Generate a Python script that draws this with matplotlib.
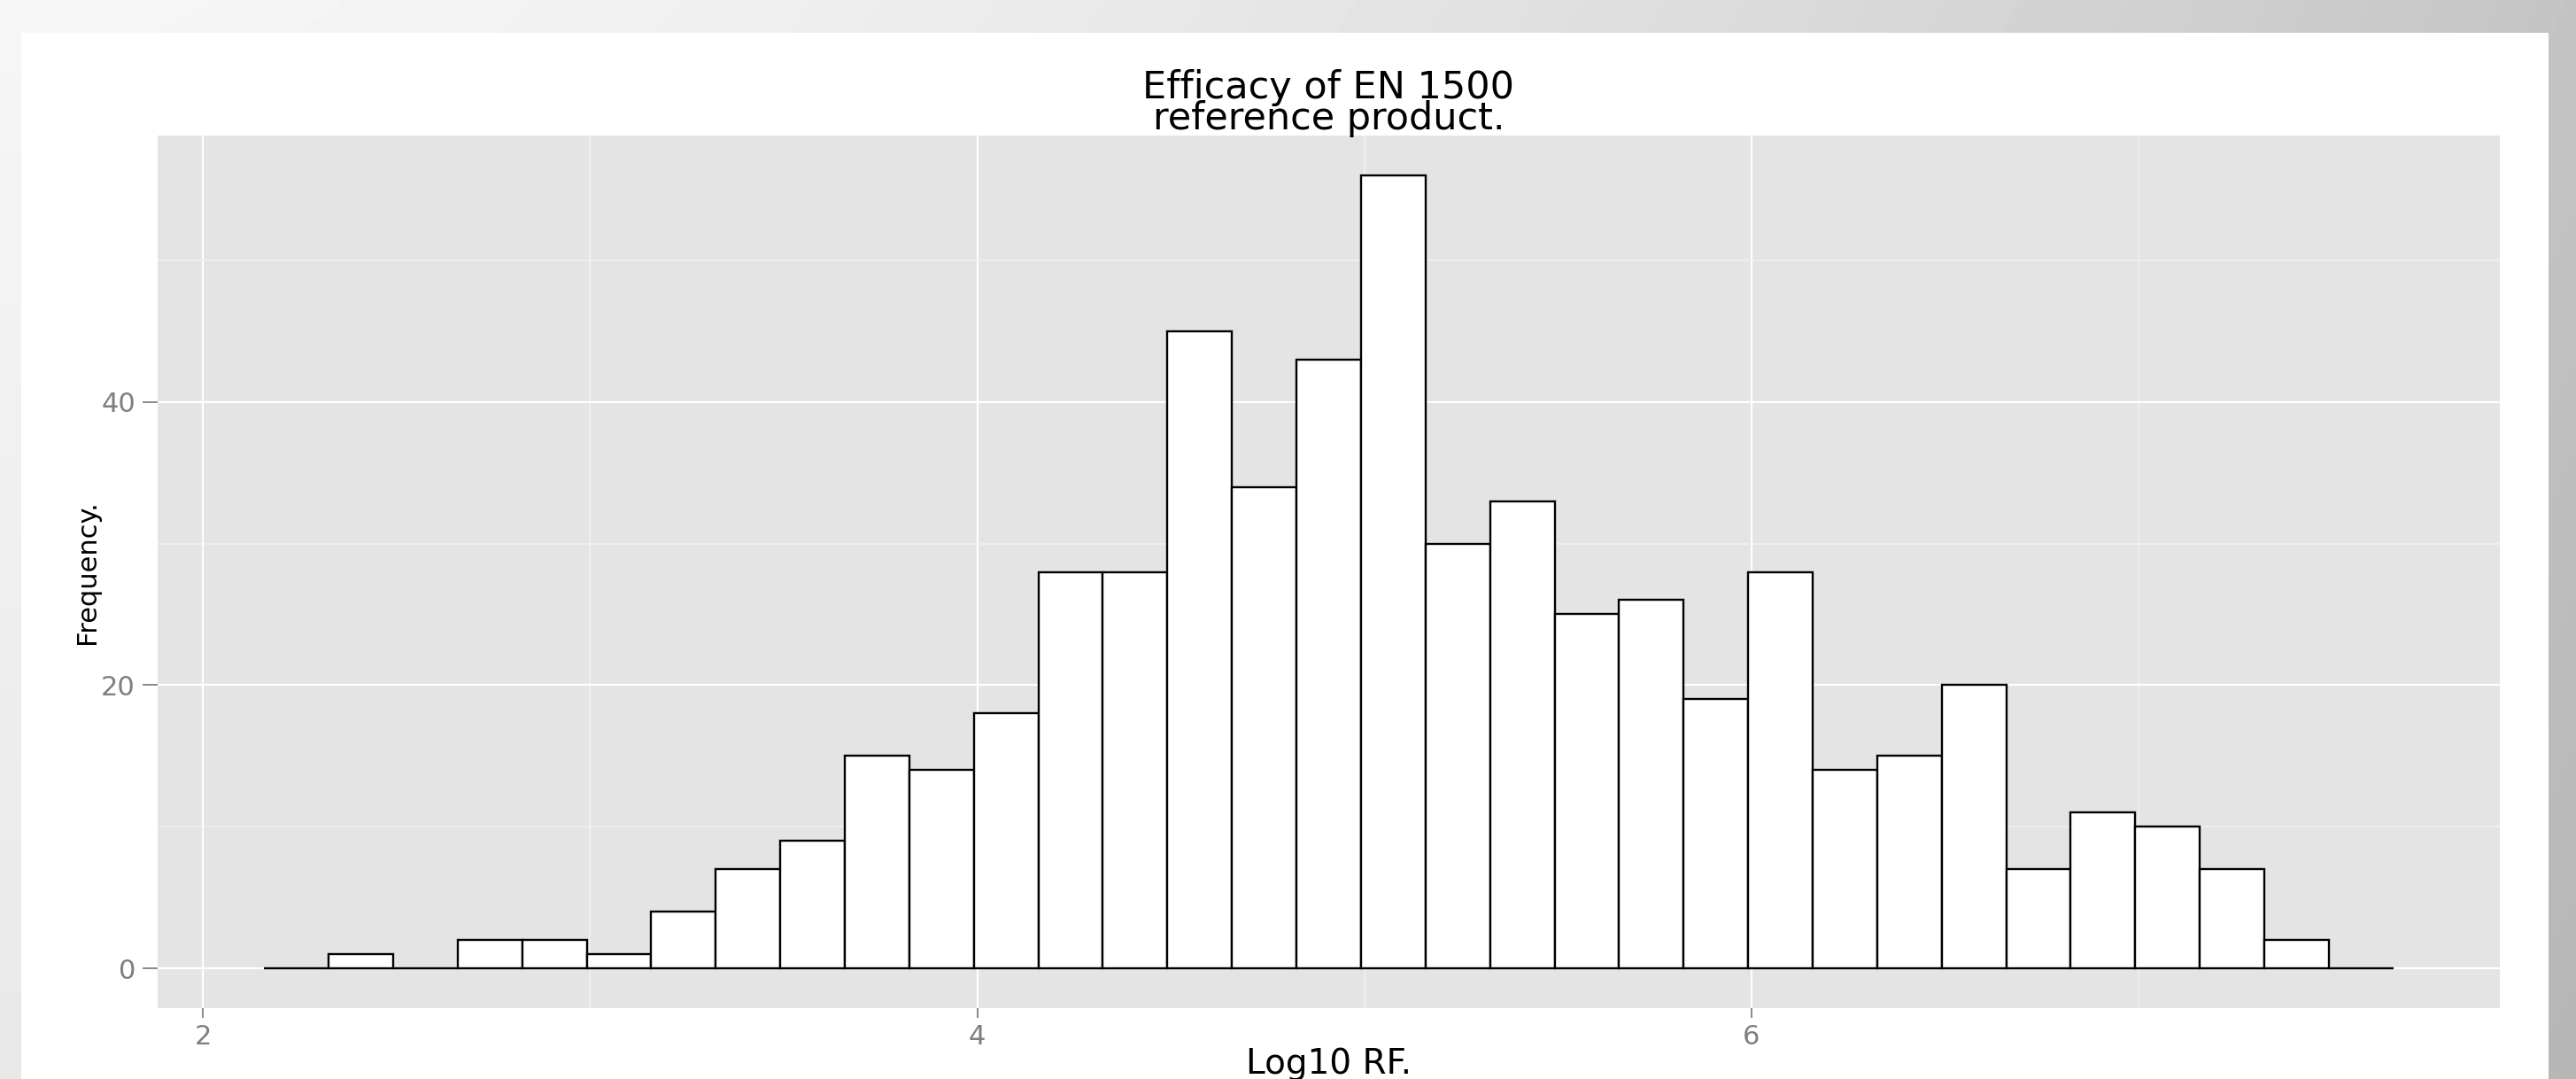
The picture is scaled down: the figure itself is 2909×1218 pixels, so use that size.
import numpy as np
import matplotlib
matplotlib.use("Agg")
import matplotlib.pyplot as plt
from matplotlib.patches import Rectangle

# Histogram of log10 reduction factors (counts per bin)
bin_start = 2.158
bin_width = 1 / 6
counts = [0, 1, 0, 2, 2, 1, 4, 7, 9, 15, 14, 18, 28, 28, 45, 34, 43, 56,
          30, 33, 25, 26, 19, 28, 14, 15, 20, 7, 11, 10, 7, 2, 0]

x_ticks = [2, 4, 6]
x_minor = [3, 5, 7]
y_ticks = [0, 20, 40]
y_minor = [10, 30, 50]

title = "Efficacy of EN 1500\nreference product."
xlabel = "Log10 RF."
ylabel = "Frequency."

W, H = 2909, 1218
fig = plt.figure(figsize=(W / 100, H / 100), dpi=100)
plt.rcParams["font.family"] = ["DejaVu Sans"]

# slide background: grey gradient with a white card on top
bg = fig.add_axes([0, 0, 1, 1], zorder=-10)
gx = np.linspace(0, 1, 400)
gy = np.linspace(0, 1, 200)
GX, GY = np.meshgrid(gx, gy)
grad = (246 - 50 * GX ** 1.6 - 14 * GY) / 255.0
bg.imshow(grad, cmap="gray", vmin=0, vmax=1, extent=[0, 1, 0, 1],
          aspect="auto", origin="upper", interpolation="bilinear")
bg.add_patch(Rectangle((24 / W, 0), (2878 - 24) / W, (H - 37) / H,
                       facecolor="white", edgecolor="none"))
bg.set_xlim(0, 1)
bg.set_ylim(0, 1)
bg.axis("off")

# plotting panel
left, right, top, bottom = 178, 2823, 153, 1138
ax = fig.add_axes([left / W, (H - bottom) / H, (right - left) / W, (bottom - top) / H])
ax.set_facecolor("#e4e4e4")

edges = bin_start + bin_width * np.arange(len(counts))
ax.bar(edges, counts, width=bin_width, align="edge", facecolor="white",
       edgecolor="black", linewidth=1.7, zorder=3)

lo = edges[0]
hi = edges[-1] + bin_width
pad = 0.05 * (hi - lo)
ax.set_xlim(lo - pad, hi + pad)
ymax = max(counts)
ax.set_ylim(-0.05 * ymax, 1.05 * ymax)

ax.set_xticks(x_ticks)
ax.set_xticks(x_minor, minor=True)
ax.set_yticks(y_ticks)
ax.set_yticks(y_minor, minor=True)
ax.grid(which="major", color="white", linewidth=1.6, zorder=1)
ax.grid(which="minor", color="#f1f1f1", linewidth=1.2, zorder=1)
ax.set_axisbelow(True)
for s in ax.spines.values():
    s.set_visible(False)

ax.tick_params(axis="both", which="minor", length=0)
ax.tick_params(axis="x", which="major", length=8, width=1.3, color="#7f7f7f",
               labelcolor="#7f7f7f", labelsize=22, pad=5)
ax.tick_params(axis="y", which="major", length=12, width=1.3, color="#7f7f7f",
               labelcolor="#7f7f7f", labelsize=22, pad=6)

ax.set_xlabel(xlabel, fontsize=28, color="black")
ax.xaxis.set_label_coords(0.5, -0.045)
ax.set_ylabel(ylabel, fontsize=22, color="black")
ax.yaxis.set_label_coords(-0.0246, 0.5)

ax.set_title(title, fontsize=31, color="black", linespacing=0.8, y=1.0071, pad=0)

fig.savefig("out.png", dpi=100)
